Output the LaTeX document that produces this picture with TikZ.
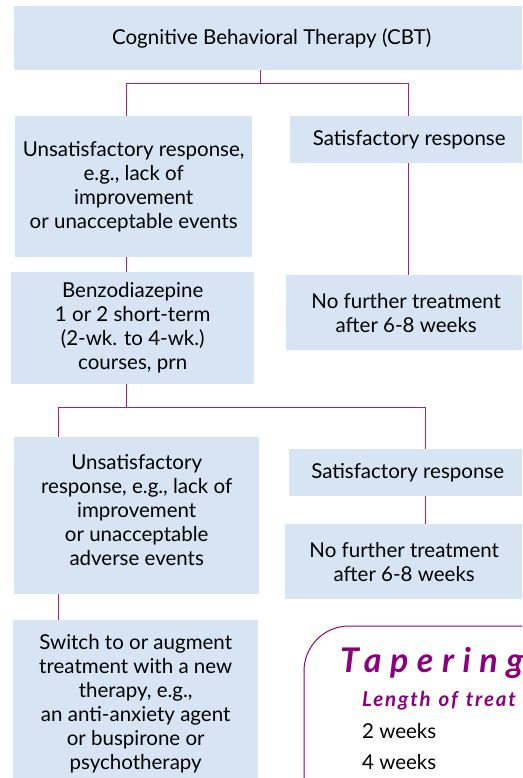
\documentclass[tikz,border=0pt]{standalone}
\usepackage{fontspec}
\setmainfont{Lato}
\usepackage{xcolor}

\definecolor{boxblue}{RGB}{214,228,243}
\definecolor{linkpurple}{RGB}{160,30,150}
\definecolor{titlepurple}{RGB}{140,0,125}

\tikzset{
  box/.style={fill=boxblue, anchor=north west, inner sep=0pt, align=center,
    font=\fontsize{20.5}{24}\selectfont},
  link/.style={draw=linkpurple, line width=1pt},
  taperline/.style={draw=titlepurple, line width=1pt, rounded corners=45pt},
}

\begin{document}
\begin{tikzpicture}[x=1pt,y=-1pt]
  \useasboundingbox (0,0) rectangle (522,778);
  \clip (0,0) rectangle (522,778);

  % first step
  \node[box, minimum width=515pt, minimum height=64pt] (cbt) at (14,6)
    {Cognitive Behavioral Therapy (CBT)};
  \node[box, minimum width=237pt, minimum height=141pt] (bad1) at (15,116)
    {Unsatisfactory response,\\ e.g., lack of\\ improvement\\ or unacceptable events};
  \node[box, minimum width=238pt, minimum height=47pt] (good1) at (290,116)
    {Satisfactory response};
  \node[box, minimum width=243pt, minimum height=112pt] (benzo) at (11,272)
    {Benzodiazepine\\ 1 or 2 short-term\\ (2-wk. to 4-wk.)\\ courses, prn};
  \node[box, minimum width=240pt, minimum height=75pt] (done1) at (286,275)
    {No further treatment\\ after 6-8 weeks};

  % second step
  \node[box, minimum width=245pt, minimum height=157pt] (bad2) at (14,437)
    {Unsatisfactory\\ response, e.g., lack of\\ improvement\\ or unacceptable\\ adverse events\\[-12pt]};
  \node[box, minimum width=237pt, minimum height=47pt] (good2) at (289,449)
    {Satisfactory response};
  \node[box, minimum width=238pt, minimum height=75pt] (done2) at (285,524)
    {No further treatment\\ after 6-8 weeks};
  \node[box, minimum width=245pt, minimum height=167pt] (switch) at (13,620)
    {Switch to or augment\\ treatment with a new\\ therapy, e.g.,\\ an anti-anxiety agent\\ or buspirone or\\ psychotherapy};

  % connectors
  \coordinate (split1) at (260,84);
  \coordinate (split1l) at (126,84);
  \coordinate (split1r) at (408,84);
  \draw[link] (cbt.south -| split1) -- (split1);
  \draw[link] (bad1.north -| split1l) -- (split1l) -- (split1r) -- (good1.north -| split1r);
  \draw[link] (bad1.south -| split1l) -- (benzo.north -| split1l);
  \draw[link] (good1.south -| split1r) -- (done1.north -| split1r);

  \coordinate (split2) at (126,407);
  \coordinate (split2l) at (58,407);
  \coordinate (split2r) at (425,407);
  \draw[link] (benzo.south -| split2) -- (split2);
  \draw[link] (bad2.north -| split2l) -- (split2l) -- (split2r) -- (good2.north -| split2r);
  \draw[link] (good2.south -| split2r) -- (done2.north -| split2r);
  \draw[link] (bad2.south -| split2l) -- (switch.north -| split2l);

  % tapering panel
  \draw[taperline] (304,820) -- (304,626) -- (600,626);
  \node[anchor=base west, inner sep=0pt, text=titlepurple,
    font=\fontsize{34}{34}\selectfont\bfseries\itshape\addfontfeatures{LetterSpace=25}] (taper) at (340,672)
    {Tapering};
  \node[anchor=base west, inner sep=0pt, text=titlepurple,
    font=\fontsize{20.5}{24}\selectfont\bfseries\itshape\addfontfeatures{LetterSpace=9}] (taperlen) at (362,706)
    {\spaceskip=8pt\relax Length of treat};
  \node[anchor=base west, inner sep=0pt, font=\fontsize{20.5}{24}\selectfont] (wk2) at (362,738)
    {2 weeks};
  \node[anchor=base west, inner sep=0pt, font=\fontsize{20.5}{24}\selectfont] (wk4) at (362,769)
    {4 weeks};
\end{tikzpicture}
\end{document}
